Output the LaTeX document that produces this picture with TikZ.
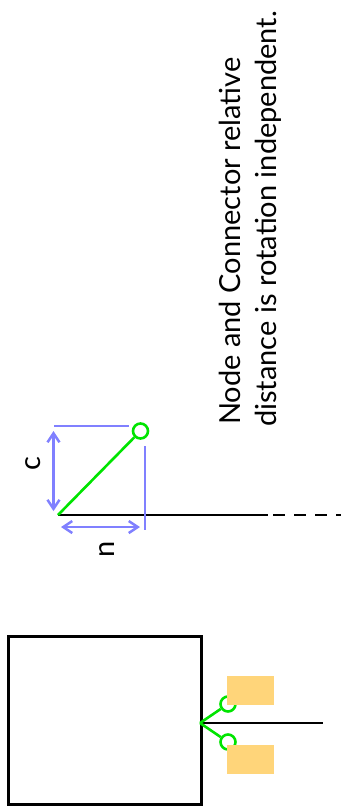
\documentclass[tikz,border=0pt]{standalone}
\usepackage{fontspec}
\setmainfont{Lato}
\usetikzlibrary{arrows.meta}
\definecolor{conngreen}{RGB}{0,228,0}
\definecolor{dimblue}{RGB}{128,128,255}
\definecolor{boxorange}{RGB}{255,213,122}
\tikzset{
  blk/.style={black,line width=2.7pt},
  grn/.style={conngreen,line width=2.6pt},
  dimln/.style={dimblue,line width=2.5pt},
  dimarr/.style={dimblue,line width=2.5pt,{Straight Barb[length=9pt,width=12pt]}-{Straight Barb[length=9pt,width=12pt]}},
  port/.style={circle,draw=conngreen,line width=2.6pt,fill=white,minimum size=15pt,inner sep=0pt},
  lbl/.style={fill=boxorange,minimum width=47pt,minimum height=29pt,inner sep=0pt},
  txt/.style={font=\fontsize{29pt}{36pt}\selectfont,rotate=90,inner sep=0pt}
}
\begin{document}
\begin{tikzpicture}[x=1pt,y=-1pt]
\useasboundingbox (0,0) rectangle (343,812);
% bottom scene
\node[draw,blk,minimum width=193pt,minimum height=168pt,inner sep=0pt,anchor=north west] (body) at (7,635) {};
\coordinate (anch) at (200,723);
\coordinate (wireend) at (323,723);
\draw[blk] (anch) -- (wireend);
\node[port] (p1) at (228,704) {};
\node[port] (p2) at (228,742) {};
\draw[grn] (anch) -- (p1);
\draw[grn] (anch) -- (p2);
\node[lbl,anchor=north west] (l1) at (227,676) {};
\node[lbl,anchor=north west] (l2) at (227,745) {};
% middle scene
\coordinate (a0) at (58,515);
\coordinate (a1) at (268,515);
\coordinate (a2) at (341,515);
\draw[blk] (a0) -- (a1);
\draw[blk,dash pattern=on 12pt off 9pt,dash phase=16pt] (a1) -- (a2);
\node[port] (cp) at (140.5,431) {};
\draw[grn] (a0) -- (cp);
\coordinate (t0) at (54,426);
\coordinate (t1) at (129,426);
\draw[dimln] (t0) -- (t1);
\coordinate (v0) at (145,446);
\coordinate (v1) at (145,530);
\draw[dimln] (v0) -- (v1);
\coordinate (c0) at (53.5,431);
\coordinate (c1) at (53.5,511);
\draw[dimarr] (c0) -- (c1);
\coordinate (n0) at (61,527);
\coordinate (n1) at (140,527);
\draw[dimarr] (n0) -- (n1);
\node[txt,anchor=base] (clab) at (41,464) {c};
\node[txt,anchor=base] (nlab) at (114,549) {n};
% text
\node[txt,anchor=base west] (msg1) at (240,425) {Node and Connector relative};
\node[txt,anchor=base west] (msg2) at (276,427) {distance is rotation independent.};
\end{tikzpicture}
\end{document}
